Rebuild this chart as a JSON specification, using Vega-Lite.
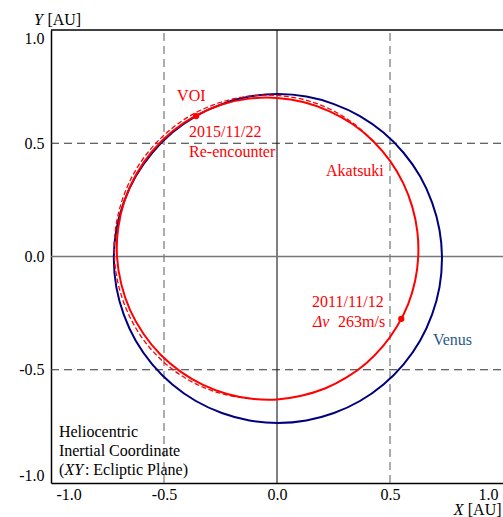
{
  "$schema": "https://vega.github.io/schema/vega-lite/v6.json",
  "width": 452,
  "height": 453,
  "autosize": "none",
  "padding": {"left": 51, "top": 30, "right": 0, "bottom": 34},
  "config": {"view": {"stroke": null}, "font": "Liberation Serif"},
  "datasets": {
    "vgrid": [{"x": -0.5, "y": -1, "y2": 1}, {"x": 0.5, "y": -1, "y2": 1}],
    "hgrid": [{"x": -1, "x2": 1, "y": -0.5}, {"x": -1, "x2": 1, "y": 0.5}],
    "vzero": [{"x": 0, "y": -1, "y2": 1}],
    "hzero": [{"x": -1, "x2": 1, "y": 0}],
    "topline": [{"x": -1, "x2": 1, "y": 1}],
    "venus": [
      {"i": 0, "x": 0.730, "y": -0.009}, {"i": 1, "x": 0.719, "y": 0.117}, {"i": 2, "x": 0.686, "y": 0.239},
      {"i": 3, "x": 0.633, "y": 0.354}, {"i": 4, "x": 0.560, "y": 0.458}, {"i": 5, "x": 0.471, "y": 0.547},
      {"i": 6, "x": 0.367, "y": 0.620}, {"i": 7, "x": 0.252, "y": 0.673}, {"i": 8, "x": 0.130, "y": 0.706},
      {"i": 9, "x": 0.004, "y": 0.717}, {"i": 10, "x": -0.122, "y": 0.706}, {"i": 11, "x": -0.244, "y": 0.673},
      {"i": 12, "x": -0.359, "y": 0.620}, {"i": 13, "x": -0.463, "y": 0.547}, {"i": 14, "x": -0.552, "y": 0.458},
      {"i": 15, "x": -0.625, "y": 0.354}, {"i": 16, "x": -0.678, "y": 0.239}, {"i": 17, "x": -0.711, "y": 0.117},
      {"i": 18, "x": -0.722, "y": -0.009}, {"i": 19, "x": -0.711, "y": -0.135}, {"i": 20, "x": -0.678, "y": -0.257},
      {"i": 21, "x": -0.625, "y": -0.372}, {"i": 22, "x": -0.552, "y": -0.476}, {"i": 23, "x": -0.463, "y": -0.565},
      {"i": 24, "x": -0.359, "y": -0.638}, {"i": 25, "x": -0.244, "y": -0.691}, {"i": 26, "x": -0.122, "y": -0.724},
      {"i": 27, "x": 0.004, "y": -0.735}, {"i": 28, "x": 0.130, "y": -0.724}, {"i": 29, "x": 0.252, "y": -0.691},
      {"i": 30, "x": 0.367, "y": -0.638}, {"i": 31, "x": 0.471, "y": -0.565}, {"i": 32, "x": 0.560, "y": -0.476},
      {"i": 33, "x": 0.633, "y": -0.372}, {"i": 34, "x": 0.686, "y": -0.257}, {"i": 35, "x": 0.719, "y": -0.135}
    ],
    "akatsuki": [
      {"i": 0, "x": 0.625, "y": 0.0}, {"i": 1, "x": 0.621, "y": 0.110}, {"i": 2, "x": 0.599, "y": 0.218},
      {"i": 3, "x": 0.559, "y": 0.323}, {"i": 4, "x": 0.501, "y": 0.421}, {"i": 5, "x": 0.427, "y": 0.508},
      {"i": 6, "x": 0.337, "y": 0.583}, {"i": 7, "x": 0.233, "y": 0.641}, {"i": 8, "x": 0.120, "y": 0.681},
      {"i": 9, "x": 0.0, "y": 0.700}, {"i": 10, "x": -0.123, "y": 0.697}, {"i": 11, "x": -0.244, "y": 0.671},
      {"i": 12, "x": -0.359, "y": 0.622}, {"i": 13, "x": -0.464, "y": 0.552}, {"i": 14, "x": -0.553, "y": 0.464},
      {"i": 15, "x": -0.624, "y": 0.361}, {"i": 16, "x": -0.675, "y": 0.246}, {"i": 17, "x": -0.703, "y": 0.124},
      {"i": 18, "x": -0.708, "y": 0.0}, {"i": 19, "x": -0.689, "y": -0.122}, {"i": 20, "x": -0.650, "y": -0.237},
      {"i": 21, "x": -0.591, "y": -0.341}, {"i": 22, "x": -0.516, "y": -0.433}, {"i": 23, "x": -0.427, "y": -0.508},
      {"i": 24, "x": -0.327, "y": -0.567}, {"i": 25, "x": -0.221, "y": -0.607}, {"i": 26, "x": -0.111, "y": -0.628},
      {"i": 27, "x": 0.0, "y": -0.631}, {"i": 28, "x": 0.108, "y": -0.615}, {"i": 29, "x": 0.212, "y": -0.583},
      {"i": 30, "x": 0.308, "y": -0.534}, {"i": 31, "x": 0.395, "y": -0.471}, {"i": 32, "x": 0.470, "y": -0.395},
      {"i": 33, "x": 0.532, "y": -0.307}, {"i": 34, "x": 0.580, "y": -0.211}, {"i": 35, "x": 0.611, "y": -0.108}
    ],
    "akatsukiOld": [
      {"i": 0, "x": 0.427, "y": 0.509}, {"i": 1, "x": 0.339, "y": 0.587}, {"i": 2, "x": 0.236, "y": 0.650},
      {"i": 3, "x": 0.122, "y": 0.692}, {"i": 4, "x": 0.0, "y": 0.711}, {"i": 5, "x": -0.125, "y": 0.708},
      {"i": 6, "x": -0.248, "y": 0.681}, {"i": 7, "x": -0.365, "y": 0.632}, {"i": 8, "x": -0.471, "y": 0.561},
      {"i": 9, "x": -0.562, "y": 0.471}, {"i": 10, "x": -0.634, "y": 0.366}, {"i": 11, "x": -0.685, "y": 0.249},
      {"i": 12, "x": -0.714, "y": 0.126}, {"i": 13, "x": -0.7195, "y": 0.0}, {"i": 14, "x": -0.702, "y": -0.124},
      {"i": 15, "x": -0.663, "y": -0.241}, {"i": 16, "x": -0.604, "y": -0.349}, {"i": 17, "x": -0.527, "y": -0.442},
      {"i": 18, "x": -0.435, "y": -0.518}, {"i": 19, "x": -0.332, "y": -0.575}, {"i": 20, "x": -0.223, "y": -0.611},
      {"i": 21, "x": -0.111, "y": -0.629}
    ],
    "events": [{"x": -0.358, "y": 0.620, "name": "VOI"}, {"x": 0.550, "y": -0.275, "name": "dV"}],
    "redText": [
      {"x": -0.442, "y": 0.687, "t": "VOI"},
      {"x": -0.389, "y": 0.527, "t": "2015/11/22"},
      {"x": -0.389, "y": 0.439, "t": "Re-encounter"},
      {"x": 0.217, "y": 0.355, "t": "Akatsuki"},
      {"x": 0.155, "y": -0.223, "t": "2011/11/12"},
      {"x": 0.270, "y": -0.311, "t": "263m/s"}
    ],
    "redItalic": [{"x": 0.159, "y": -0.311, "t": "Δv"}],
    "venusText": [{"x": 0.690, "y": -0.391, "t": "Venus"}],
    "blackText": [
      {"x": -0.965, "y": -0.797, "t": "Heliocentric"},
      {"x": -0.965, "y": -0.881, "t": "Inertial Coordinate"},
      {"x": -0.965, "y": -0.965, "t": "("},
      {"x": -0.850, "y": -0.965, "t": ": Ecliptic Plane)"},
      {"x": -1.016, "y": 1.022, "t": "[AU]"},
      {"x": 0.844, "y": -1.143, "t": "[AU]"}
    ],
    "blackItalic": [
      {"x": -0.940, "y": -0.965, "t": "XY"},
      {"x": -1.075, "y": 1.022, "t": "Y"},
      {"x": 0.782, "y": -1.143, "t": "X"}
    ]
  },
  "encoding": {
    "x": {
      "field": "x", "type": "quantitative",
      "scale": {"domain": [-1, 1], "nice": false, "zero": false},
      "axis": {
        "title": null, "values": [-1, -0.5, 0, 0.5, 1],
        "labelExpr": "datum.value < 0 ? '-' + format(-datum.value, '.1f') : format(datum.value, '.1f')",
        "ticks": false, "grid": false, "domainColor": "black", "domainWidth": 1.5,
        "labelFont": "Liberation Serif", "labelFontSize": 16, "labelColor": "black",
        "labelPadding": 3, "labelFlush": true, "labelFlushOffset": -5
      }
    },
    "y": {
      "field": "y", "type": "quantitative",
      "scale": {"domain": [-1, 1], "nice": false, "zero": false},
      "axis": {
        "title": null, "values": [-1, -0.5, 0, 0.5, 1],
        "labelExpr": "datum.value < 0 ? '-' + format(-datum.value, '.1f') : format(datum.value, '.1f')",
        "ticks": false, "grid": false, "domainColor": "black", "domainWidth": 1.5,
        "labelFont": "Liberation Serif", "labelFontSize": 16, "labelColor": "black",
        "labelPadding": 7, "labelFlush": true, "labelFlushOffset": 0
      }
    }
  },
  "layer": [
    {"data": {"name": "vgrid"}, "mark": {"type": "rule", "color": "#777777", "strokeWidth": 1.2, "strokeDash": [8, 5]}, "encoding": {"y2": {"field": "y2"}}},
    {"data": {"name": "hgrid"}, "mark": {"type": "rule", "color": "#333333", "strokeWidth": 1.2, "strokeDash": [8, 5]}, "encoding": {"x2": {"field": "x2"}}},
    {"data": {"name": "vzero"}, "mark": {"type": "rule", "color": "#000000", "strokeWidth": 1}, "encoding": {"y2": {"field": "y2"}}},
    {"data": {"name": "hzero"}, "mark": {"type": "rule", "color": "#777777", "strokeWidth": 1.5}, "encoding": {"x2": {"field": "x2"}}},
    {"data": {"name": "topline"}, "mark": {"type": "rule", "color": "#000000", "strokeWidth": 1.5}, "encoding": {"x2": {"field": "x2"}}},
    {"data": {"name": "venus"}, "mark": {"type": "line", "color": "#00007f", "strokeWidth": 2, "interpolate": "catmull-rom-closed"}, "encoding": {"order": {"field": "i", "type": "quantitative"}}},
    {"data": {"name": "akatsukiOld"}, "mark": {"type": "line", "color": "#ff0000", "strokeWidth": 1.3, "strokeDash": [5, 2.5], "interpolate": "catmull-rom"}, "encoding": {"order": {"field": "i", "type": "quantitative"}}},
    {"data": {"name": "akatsuki"}, "mark": {"type": "line", "color": "#ff0000", "strokeWidth": 2, "interpolate": "catmull-rom-closed"}, "encoding": {"order": {"field": "i", "type": "quantitative"}}},
    {"data": {"name": "events"}, "mark": {"type": "point", "filled": true, "color": "#ff0000", "size": 40, "opacity": 1}},
    {"data": {"name": "redText"}, "mark": {"type": "text", "align": "left", "baseline": "alphabetic", "font": "Liberation Serif", "fontSize": 16, "color": "#ff0000"}, "encoding": {"text": {"field": "t"}}},
    {"data": {"name": "redItalic"}, "mark": {"type": "text", "align": "left", "baseline": "alphabetic", "font": "Liberation Serif", "fontSize": 16, "fontStyle": "italic", "color": "#ff0000"}, "encoding": {"text": {"field": "t"}}},
    {"data": {"name": "venusText"}, "mark": {"type": "text", "align": "left", "baseline": "alphabetic", "font": "Liberation Serif", "fontSize": 16, "color": "#2a5a8a"}, "encoding": {"text": {"field": "t"}}},
    {"data": {"name": "blackText"}, "mark": {"type": "text", "align": "left", "baseline": "alphabetic", "font": "Liberation Serif", "fontSize": 16, "color": "#000000"}, "encoding": {"text": {"field": "t"}}},
    {"data": {"name": "blackItalic"}, "mark": {"type": "text", "align": "left", "baseline": "alphabetic", "font": "Liberation Serif", "fontSize": 16, "fontStyle": "italic", "color": "#000000"}, "encoding": {"text": {"field": "t"}}}
  ]
}
